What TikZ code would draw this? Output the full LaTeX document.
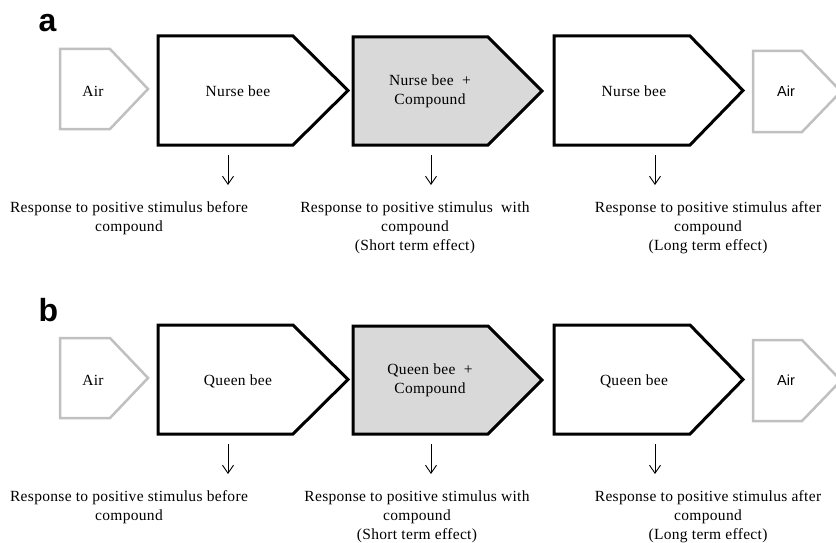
\documentclass[tikz,border=0pt]{standalone}
\usepackage{fontspec}
\setmainfont[LetterSpace=2]{Liberation Serif}
\newfontfamily\arialfont{Liberation Sans}
\usetikzlibrary{arrows.meta}
\definecolor{airgray}{HTML}{C0C0C0}
\definecolor{boxgray}{HTML}{D9D9D9}
\tikzset{
  blackbox/.style={draw=black, line width=3pt, fill=white, line join=miter},
  greybox/.style={blackbox, fill=boxgray},
  airbox/.style={draw=airgray, line width=2.5pt, fill=white, line join=miter},
  boxtext/.style={font=\fontsize{15.5}{19.5}\selectfont, align=center, inner sep=0pt},
  airserif/.style={font=\fontsize{15.5}{19}\selectfont, inner sep=0pt},
  airsans/.style={font=\arialfont\fontsize{14.5}{18}\selectfont, inner sep=0pt},
  resptext/.style={font=\fontsize{15.5}{19}\selectfont, align=center, inner sep=0pt, anchor=north},
  downarrow/.style={-{Straight Barb[length=8pt,width=11pt]}, line width=0.9pt},
  panellabel/.style={font=\arialfont\bfseries\fontsize{32}{32}\selectfont, inner sep=0pt, anchor=base west}
}
% #1 style, #2 left x, #3 top y, #4 end of rectangle x, #5 tip x, #6 bottom y
\newcommand\pentashape[6]{%
  \draw[#1] (#2,#3) -- (#4,#3) -- (#5,{(#3+#6)/2}) -- (#4,#6) -- (#2,#6) -- cycle;}
% #1 prefix, #2 letter, #3 bee, #4 first line of middle response, #5 x of middle response
\newcommand\drawpanel[5]{%
  \node[panellabel] (#1-label) at (38.5,32) {#2};
  \pentashape{airbox}{60}{49}{110}{148}{129}
  \pentashape{blackbox}{158}{36}{293}{348}{145}
  \pentashape{greybox}{353}{37}{488}{542}{145}
  \pentashape{blackbox}{554}{36}{690}{743}{145}
  \pentashape{airbox}{753}{51}{802}{841}{132}
  \node[airserif, anchor=base] (#1-airl) at (93,96) {Air};
  \node[boxtext, anchor=base] (#1-bee1) at (238,96) {#3};
  \node[boxtext, anchor=north] (#1-bee2) at (430,74.2) {#3\ \ +\\Compound};
  \node[boxtext, anchor=base] (#1-bee3) at (634,96) {#3};
  \node[airsans, anchor=base] (#1-airr) at (786,96) {Air};
  \coordinate (#1-s1) at (228,155); \coordinate (#1-e1) at (228,185);
  \coordinate (#1-s2) at (431,155); \coordinate (#1-e2) at (431,185);
  \coordinate (#1-s3) at (655,155); \coordinate (#1-e3) at (655,185);
  \draw[downarrow] (#1-s1) -- (#1-e1);
  \draw[downarrow] (#1-s2) -- (#1-e2);
  \draw[downarrow] (#1-s3) -- (#1-e3);
  \node[resptext] (#1-r1) at (129,201.2) {Response to positive stimulus before\\compound};
  \node[resptext] (#1-r2) at (#5,201.2) {#4\\compound\\(Short term effect)};
  \node[resptext] (#1-r3) at (708,201.2) {Response to positive stimulus after\\compound\\(Long term effect)};
}
\begin{document}
\begin{tikzpicture}[x=1pt,y=-1pt]
  \useasboundingbox (0,0) rectangle (836,543);
  \clip (0,0) rectangle (836,543);
  \fill[white] (0,0) rectangle (836,543);
  \begin{scope}
    \drawpanel{a}{a}{Nurse bee}{Response to positive stimulus\ \ with}{415}
  \end{scope}
  \begin{scope}[shift={(0,289)}]
    \drawpanel{b}{b}{Queen bee}{Response to positive stimulus with}{417}
  \end{scope}
\end{tikzpicture}
\end{document}
